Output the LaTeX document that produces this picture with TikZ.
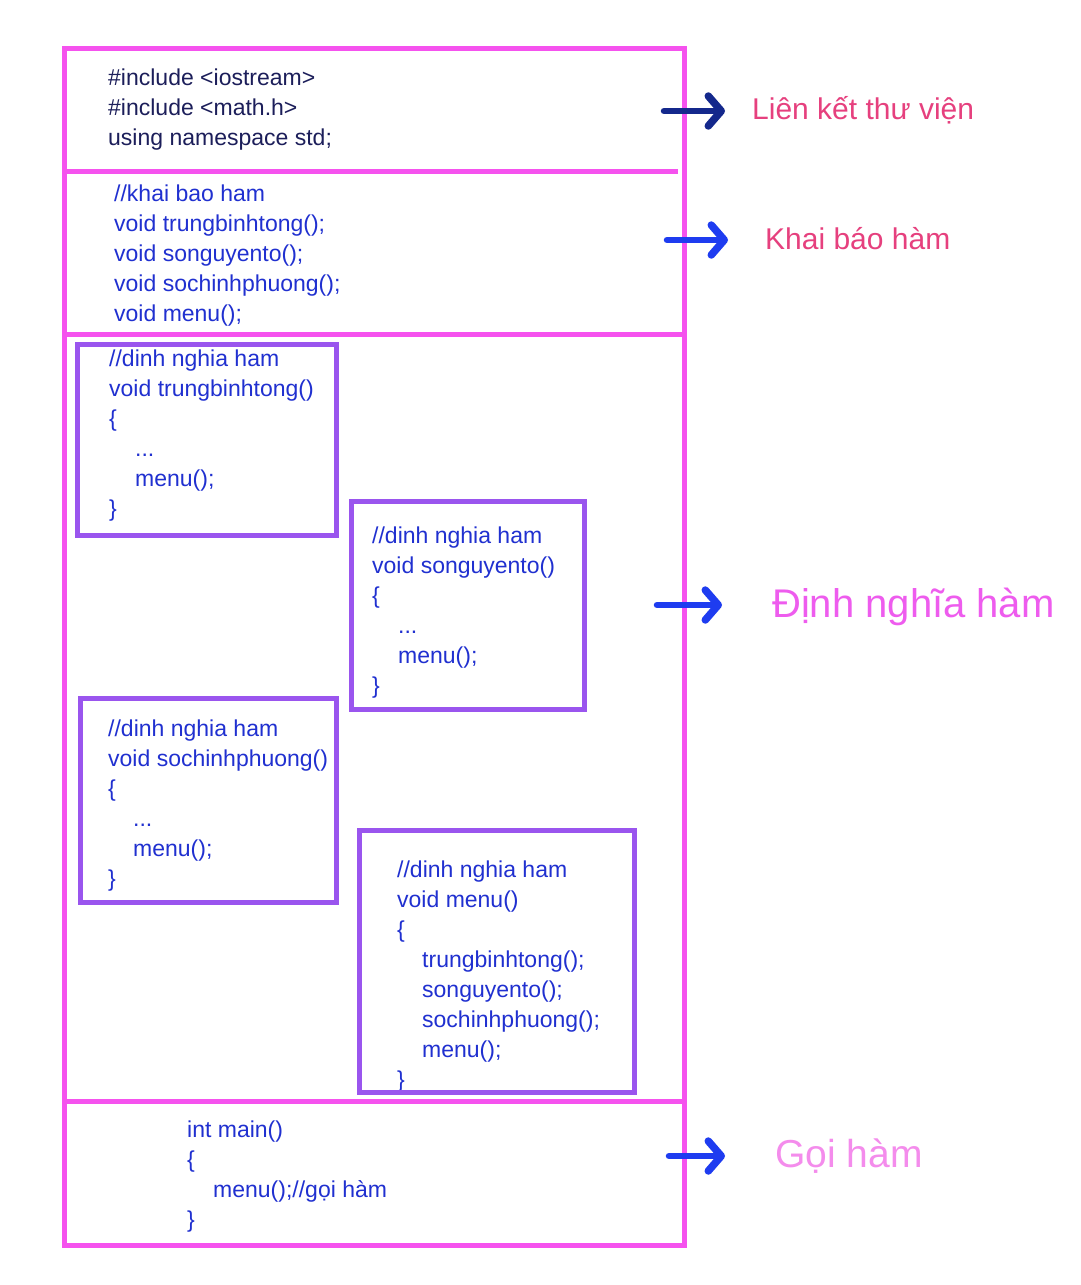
\documentclass[tikz,border=0pt]{standalone}
\usepackage{fontspec}
\setmainfont{Liberation Sans}
\usetikzlibrary{arrows.meta}
\definecolor{framepink}{HTML}{F552EE}
\definecolor{boxpurple}{HTML}{9A55EE}
\definecolor{codeblue}{HTML}{2030D0}
\definecolor{codedark}{HTML}{1C1E5A}
\definecolor{arrownavy}{HTML}{14288C}
\definecolor{arrowblue}{HTML}{1E3CF0}
\definecolor{lblred}{HTML}{E6407E}
\definecolor{lblmag}{HTML}{EE5CEE}
\definecolor{lblpink}{HTML}{F48CEC}
\begin{document}
\begin{tikzpicture}[x=1pt,y=-1pt,
  frame/.style={draw=framepink,line width=5pt},
  fbox/.style={draw=boxpurple,line width=5pt},
  code/.style={anchor=north west,inner sep=0pt,align=left,text=codeblue,font=\fontsize{23}{30}\selectfont},
  bigarrow/.style={line width=6.5pt,line cap=round,-{Straight Barb[length=13pt,width=30pt,line width=7.5pt,line cap=round,line join=round]}},
  lbl/.style={anchor=base west,inner sep=0pt}]
\useasboundingbox (0,0) rectangle (1080,1285);
\fill[white] (0,0) rectangle (1080,1285);

% code texts
\node[code,text=codedark] (inc) at (108,69) {\#include <iostream>\\\#include <math.h>\\using namespace std;};
\node[code] (decl) at (114,185) {//khai bao ham\\void trungbinhtong();\\void songuyento();\\void sochinhphuong();\\void menu();};
\node[code] (f1) at (109,350) {//dinh nghia ham\\void trungbinhtong()\\\{\\\hspace*{26pt}...\\\hspace*{26pt}menu();\\\}};
\node[code] (f2) at (372,527) {//dinh nghia ham\\void songuyento()\\\{\\\hspace*{26pt}...\\\hspace*{26pt}menu();\\\}};
\node[code] (f3) at (108,720) {//dinh nghia ham\\void sochinhphuong()\\\{\\\hspace*{25pt}...\\\hspace*{25pt}menu();\\\}};
\node[code] (f4) at (397,861) {//dinh nghia ham\\void menu()\\\{\\\hspace*{25pt}trungbinhtong();\\\hspace*{25pt}songuyento();\\\hspace*{25pt}sochinhphuong();\\\hspace*{25pt}menu();\\\}};
\node[code] (mainf) at (187,1121) {int main()\\\{\\\hspace*{26pt}menu();//gọi hàm\\\}};

% frame and dividers
\draw[frame] (64,48) rectangle (684,1245);
\draw[frame] (64,171) -- (678,171);
\draw[frame] (64,334) -- (684,334);
\draw[frame] (64,1101) -- (684,1101);

% function boxes
\draw[fbox] (77,344) rectangle (336,535);
\draw[fbox] (351,501) rectangle (584,709);
\draw[fbox] (80,698) rectangle (336,902);
\draw[fbox] (359,830) rectangle (634,1092);

% labels
\node[lbl,text=lblred,font=\fontsize{30}{36}\selectfont] (l1) at (752,119) {Liên kết thư viện};
\node[lbl,text=lblred,font=\fontsize{30}{36}\selectfont] (l2) at (765,249) {Khai báo hàm};
\node[lbl,text=lblmag,font=\fontsize{40}{46}\selectfont] (l3) at (772,617) {Định nghĩa hàm};
\node[lbl,text=lblpink,font=\fontsize{39}{46}\selectfont] (l4) at (775,1167) {Gọi hàm};

% arrows
\coordinate (a1s) at (664,111); \coordinate (a1e) at (725,111);
\coordinate (a2s) at (667,240); \coordinate (a2e) at (728,240);
\coordinate (a3s) at (657,605); \coordinate (a3e) at (722,605);
\coordinate (a4s) at (669,1156); \coordinate (a4e) at (725,1156);
\draw[bigarrow,draw=arrownavy] (a1s) -- (a1e);
\draw[bigarrow,draw=arrowblue] (a2s) -- (a2e);
\draw[bigarrow,draw=arrowblue] (a3s) -- (a3e);
\draw[bigarrow,draw=arrowblue] (a4s) -- (a4e);
\end{tikzpicture}
\end{document}
